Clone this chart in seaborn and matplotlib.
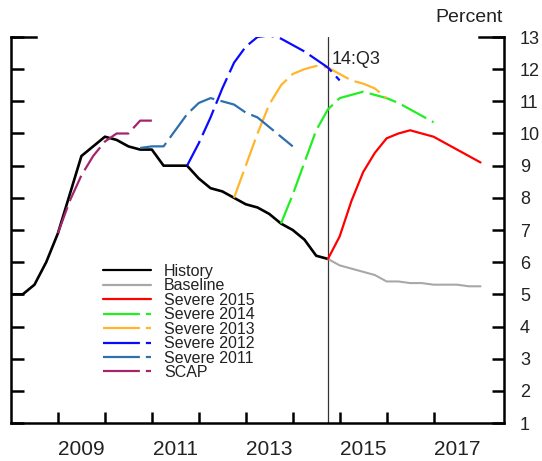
import numpy as np
import pandas as pd
import matplotlib
matplotlib.use("Agg")
import matplotlib.pyplot as plt
import seaborn as sns

# Unemployment rate paths, quarterly (percent); first entry is the start quarter
history_start = "2007Q4"
history = [5.0, 5.0, 5.3, 6.0, 6.9, 8.1, 9.3, 9.6, 9.9, 9.8, 9.6, 9.5, 9.5, 9.0,
           9.0, 9.0, 8.6, 8.3, 8.2, 8.0, 7.8, 7.7, 7.5, 7.2, 7.0, 6.7, 6.2, 6.1]

baseline_start = "2014Q3"
baseline = [6.1, 5.9, 5.8, 5.7, 5.6, 5.4, 5.4, 5.35, 5.35, 5.3, 5.3, 5.3, 5.25, 5.25]

severe2015_start = "2014Q3"
severe2015 = [6.1, 6.8, 7.9, 8.8, 9.4, 9.85, 10.0, 10.1, 10.0, 9.9, 9.7, 9.5, 9.3, 9.1]

severe2014_start = "2013Q3"
severe2014 = [7.2, 8.1, 9.1, 10.1, 10.75, 11.1, 11.2, 11.3, 11.2, 11.1, 10.95, 10.75, 10.55, 10.35]

severe2013_start = "2012Q3"
severe2013 = [8.0, 9.0, 10.0, 10.9, 11.5, 11.85, 12.0, 12.1, 12.05, 11.85, 11.65, 11.55, 11.4, 11.1]

severe2012_start = "2011Q3"
severe2012 = [9.0, 9.7, 10.5, 11.4, 12.2, 12.7, 13.0, 13.05, 12.95, 12.75, 12.55, 12.3, 12.05, 11.65]

severe2011_start = "2010Q3"
severe2011 = [9.55, 9.6, 9.6, 10.1, 10.6, 10.95, 11.1, 11.0, 10.9, 10.65, 10.5, 10.2, 9.9, 9.6]

scap_start = "2008Q4"
scap = [6.9, 7.9, 8.7, 9.3, 9.75, 10.0, 10.0, 10.4, 10.4]

jump_off = "2014Q3"
jump_off_label = "14:Q3"
year_labels = [2009, 2011, 2013, 2015, 2017]


def quarter_pos(q):
    """Quarter string -> position on a year axis (end of quarter)."""
    return int(q[:4]) + int(q[-1]) / 4.0


def series_frame(name, start, values):
    x = quarter_pos(start) + 0.25 * np.arange(len(values))
    return pd.DataFrame({"series": name, "date": x, "rate": values})


sns.set_style("ticks")
plt.rcParams["font.family"] = ["Liberation Sans", "DejaVu Sans"]

fig = plt.figure(figsize=(5.42, 4.61), dpi=100)
ax = fig.add_axes([11 / 542, 1 - 423 / 461, 493 / 542, 386 / 461])

dash = (0, (12.5, 2.9))
specs = [
    ("History", history_start, history, "#000000", 1.9, "-"),
    ("Baseline", baseline_start, baseline, "#a8a8a8", 1.5, "-"),
    ("Severe 2015", severe2015_start, severe2015, "#ff0000", 1.6, "-"),
    ("Severe 2014", severe2014_start, severe2014, "#22ee22", 1.6, dash),
    ("Severe 2013", severe2013_start, severe2013, "#ffb52e", 1.6, dash),
    ("Severe 2012", severe2012_start, severe2012, "#0a0aff", 1.6, dash),
    ("Severe 2011", severe2011_start, severe2011, "#2e6fae", 1.6, dash),
    ("SCAP", scap_start, scap, "#a3256d", 1.6, dash),
]

for name, start, vals, color, lw, ls in specs:
    df = series_frame(name, start, vals)
    sns.lineplot(data=df, x="date", y="rate", ax=ax, color=color, linewidth=lw,
                 linestyle=ls, label=name, errorbar=None)

# Jump-off marker
event_x = quarter_pos(jump_off)
ax.axvline(event_x, color="#333333", linewidth=0.9, zorder=1)
ax.annotate(jump_off_label, xy=(event_x, 12.3), xytext=(3, 0),
            textcoords="offset points", va="center", ha="left", fontsize=13,
            color="#222222")

ax.set_xlim(2008.0, 2018.5)
ax.set_ylim(1, 13)
ax.set_xlabel("")
ax.set_ylabel("")

# Year boundaries as ticks, year names centred in between
ax.set_xticks(np.arange(2009, 2018))
ax.set_xticklabels([])
ax.set_xticks([y + 0.5 for y in year_labels], minor=True)
ax.set_xticklabels([str(y) for y in year_labels], minor=True)
ax.tick_params(axis="x", which="major", direction="in", length=8, width=1.8,
               color="black")
ax.tick_params(axis="x", which="minor", length=0, labelsize=15, pad=12,
               colors="#222222")

ax.set_yticks(np.arange(1, 14))
ax.tick_params(axis="y", left=True, right=True, labelleft=False, labelright=True,
               direction="in", length=9, width=1.8, labelsize=13, pad=11.5,
               labelcolor="#222222", color="black")

for side in ["left", "right", "bottom"]:
    ax.spines[side].set_linewidth(1.8)
    ax.spines[side].set_color("black")
ax.spines["top"].set_visible(False)

# Long caps at the top of both vertical axes
cap = 25 / 493
ax.plot([0, cap], [1, 1], transform=ax.transAxes, color="black", lw=1.8,
        clip_on=False, solid_capstyle="projecting")
ax.plot([1 - cap, 1], [1, 1], transform=ax.transAxes, color="black", lw=1.8,
        clip_on=False, solid_capstyle="projecting")

fig.text(469 / 542, 1 - 17 / 461, "Percent", ha="center", va="center",
         fontsize=14, color="#222222")

leg = ax.legend(loc="upper left", bbox_to_anchor=(0.187, 0.412), frameon=False,
                fontsize=11.5, handlelength=3.0, handletextpad=0.8,
                labelspacing=-0.035, borderpad=0, borderaxespad=0)
for line in leg.get_lines():
    line.set_linewidth(1.6)
    if line.get_linestyle() != "-":
        line.set_dashes((16.6, 2.7))
for t in leg.get_texts():
    t.set_color("#222222")

fig.savefig("out.png", dpi=100)
